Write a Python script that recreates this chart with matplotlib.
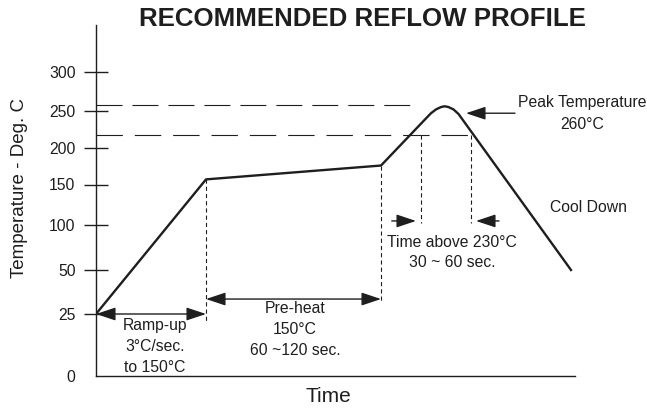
import numpy as np
import matplotlib.pyplot as plt

plt.rcParams['font.family'] = ['Liberation Sans', 'DejaVu Sans']
plt.rcParams['lines.scale_dashes'] = False

# reflow profile: time (sec) vs temperature (deg C)
time = [0, 44, 114, 132, 134, 136, 138, 139.5, 141, 143, 145, 190]
temp = [25, 157, 176, 240, 247, 252, 255, 256, 255, 252, 246, 50]

yticks = [0, 25, 50, 100, 150, 200, 250, 300]

# the temperature axis of the original is not linear,
# so map each tick value to its height on the axis
scale_vals = [0, 25, 50, 100, 150, 200, 250, 300, 360]
scale_pos = [0, 62, 106, 151, 191.5, 228, 265, 304.5, 351]

peak_level = 257     # upper dashed line
above_level = 218    # lower dashed line ("time above")
ramp_end = 44
preheat_end = 114
above_start = 130
above_end = 150

ink = '#1e1e1e'


def fwd(v):
    return np.interp(v, scale_vals, scale_pos)


def inv(p):
    return np.interp(p, scale_pos, scale_vals)


def arrow(ax, x0, x1, y, style):
    ax.annotate('', xy=(x1, y), xytext=(x0, y),
                arrowprops=dict(arrowstyle=style + ',head_length=1.2,head_width=0.4',
                                color=ink, lw=1.0, shrinkA=0, shrinkB=0,
                                mutation_scale=10))


fig = plt.figure(figsize=(6.47, 4.09), dpi=100)
ax = fig.add_axes([96 / 647, 33 / 409, 479 / 647, 351 / 409])
ax.set_yscale('function', functions=(fwd, inv))
ax.set_xlim(0, 191.6)
ax.set_ylim(0, 360)

ax.plot(time, temp, color=ink, lw=1.7, solid_joinstyle='round')

# long dashed guide lines
ax.plot([0, 126.4], [peak_level] * 2, color=ink, lw=0.8, dashes=(18.7, 7.2))
ax.plot([0, 150], [above_level] * 2, color=ink, lw=0.8, dashes=(19, 8.6))

# short dashed drop lines
short = (3, 2.2)
ax.plot([ramp_end, ramp_end], [157, 22], color=ink, lw=0.8, dashes=short)
ax.plot([preheat_end, preheat_end], [176, 31], color=ink, lw=0.8, dashes=short)
ax.plot([above_start, above_start], [above_level, 102], color=ink, lw=0.8, dashes=short)
ax.plot([above_end, above_end], [above_level, 102], color=ink, lw=0.8, dashes=short)

# arrows
arrow(ax, 0, ramp_end, 25, '<|-|>')
arrow(ax, ramp_end, preheat_end, 33.5, '<|-|>')
arrow(ax, 118.3, 128, 105, '-|>')
arrow(ax, 161.2, 152, 105, '-|>')
arrow(ax, 167.6, 148, 247, '-|>')

fs = 11.3
ax.text(194.4, 246.6, 'Peak Temperature\n260°C', ha='center', va='center',
        fontsize=fs, linespacing=1.58, color=ink, multialignment='center')
ax.text(196.8, 121, 'Cool Down', ha='center', va='center', fontsize=fs, color=ink)
ax.text(142.4, 69.4, 'Time above 230°C\n30 ~ 60 sec.', ha='center', va='center',
        fontsize=fs, linespacing=1.42, color=ink)
ax.text(79.6, 18.75, 'Pre-heat\n150°C\n60 ~120 sec.', ha='center', va='center',
        fontsize=fs, linespacing=1.47, color=ink)
ax.text(23.6, 11.9, 'Ramp-up\n3°C/sec.\nto 150°C', ha='center', va='center',
        fontsize=fs, linespacing=1.46, color=ink)

for side in ['top', 'right']:
    ax.spines[side].set_visible(False)
for side in ['left', 'bottom']:
    ax.spines[side].set_linewidth(1.0)
    ax.spines[side].set_color(ink)

ax.set_xticks([])
ax.set_yticks(yticks)
ax.set_yticklabels([str(v) for v in yticks])
ax.tick_params(axis='y', direction='inout', length=17.3, width=1.0, pad=6.1,
               labelsize=fs, color=ink, labelcolor=ink)
ax.yaxis.get_major_ticks()[0].tick1line.set_visible(False)

fig.text(362 / 647, 1 - 18.5 / 409, 'RECOMMENDED REFLOW PROFILE', ha='center',
         va='center', fontsize=18.6, fontweight='bold', color=ink)
fig.text(20 / 647, 1 - 188 / 409, 'Temperature - Deg. C', rotation=90,
         ha='center', va='center', fontsize=13.5, color=ink)
fig.text(328 / 647, 1 - 397 / 409, 'Time', ha='center', va='center',
         fontsize=15, color=ink)

fig.savefig('out.png', dpi=100)
